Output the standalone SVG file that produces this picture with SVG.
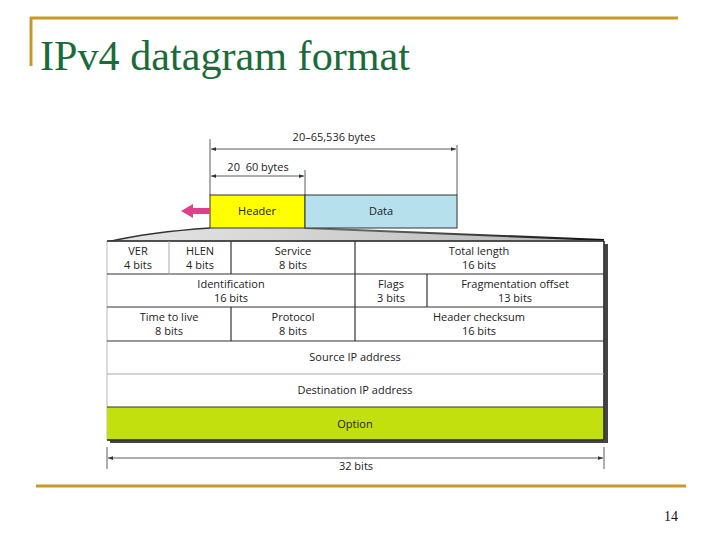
<svg xmlns="http://www.w3.org/2000/svg" width="720" height="540" viewBox="0 0 720 540">
<defs>
<style>
.t{font-family:"Open Sans","Liberation Sans",sans-serif;font-size:11px;fill:#222;text-anchor:middle}
.ln{stroke:#333;stroke-width:1.2;fill:none}
.dim{stroke:#333;stroke-width:0.8;fill:none}
</style>
<linearGradient id="fan" x1="0" y1="0" x2="1" y2="0">
<stop offset="0" stop-color="#e6e6e6"/>
<stop offset="0.5" stop-color="#cfcfcf"/>
<stop offset="1" stop-color="#b4b4b4"/>
</linearGradient>
<linearGradient id="edge" x1="0" y1="0" x2="1" y2="0">
<stop offset="0" stop-color="#777"/>
<stop offset="1" stop-color="#111"/>
</linearGradient>
<marker id="ah" viewBox="0 0 8 6" refX="8" refY="3" markerWidth="7" markerHeight="5" orient="auto-start-reverse">
<path d="M0,0 L8,3 L0,6 z" fill="#333"/>
</marker>
</defs>
<rect width="720" height="540" fill="#fff"/>
<!-- slide frame -->
<line x1="30" y1="18" x2="678" y2="18" stroke="#c49a2a" stroke-width="3"/>
<line x1="31" y1="17" x2="31" y2="66" stroke="#c49a2a" stroke-width="3"/>
<line x1="36" y1="486" x2="686" y2="486" stroke="#c49a2a" stroke-width="3"/>
<text x="40" y="70" font-family="Liberation Serif,serif" font-size="42" fill="#1b6b3a" textLength="370" lengthAdjust="spacingAndGlyphs">IPv4 datagram format</text>
<text x="671" y="521" font-family="Liberation Serif,serif" font-size="14" fill="#111" text-anchor="middle">14</text>

<!-- dimension lines -->
<g id="dims">
<line class="dim" x1="210" y1="139" x2="210" y2="195"/>
<line class="dim" x1="457" y1="145" x2="457" y2="195"/>
<line class="dim" x1="305" y1="170" x2="305" y2="195"/>
<line class="dim" x1="211" y1="149" x2="456" y2="149" marker-start="url(#ah)" marker-end="url(#ah)"/>
<line class="dim" x1="211" y1="176" x2="304" y2="176" marker-start="url(#ah)" marker-end="url(#ah)"/>
<text class="t" x="334" y="141">20–65,536 bytes</text>
<text class="t" x="258" y="171">20&#160;&#160;60 bytes</text>
<line class="dim" x1="107" y1="447" x2="107" y2="469"/>
<line class="dim" x1="604" y1="447" x2="604" y2="469"/>
<line class="dim" x1="108" y1="458" x2="603" y2="458" marker-start="url(#ah)" marker-end="url(#ah)"/>
<text class="t" x="356" y="470">32 bits</text>
</g>

<!-- fan -->
<path d="M210,228 L305,228 L604,240 L107,242 Q150,232 210,228 z" fill="url(#fan)"/>
<path d="M210,228 Q150,232 107,242" fill="none" stroke="#333" stroke-width="1.5"/>
<path d="M305,228 L604,240" fill="none" stroke="url(#edge)" stroke-width="2.2"/>

<!-- datagram -->
<g id="header">
<rect x="210" y="195" width="95" height="33" fill="#ffff00" stroke="#333" stroke-width="1"/>
<text class="t" x="257" y="215">Header</text>
</g>
<g id="data">
<rect x="305" y="195" width="152" height="33" fill="#b5e0ec" stroke="#333" stroke-width="1"/>
<text class="t" x="381" y="215">Data</text>
</g>
<g id="out-arrow">
<path d="M210,208 L193,208 L193,204 L181,211 L193,218 L193,214 L210,214 z" fill="#e0408a"/>
</g>

<!-- table -->
<g id="table">
<rect x="110" y="244" width="498" height="199" fill="#444"/>
<rect x="107" y="241" width="497" height="199" fill="#fff" stroke="#bbb" stroke-width="1"/>
<rect x="107" y="407" width="497" height="33" fill="#c2e00e"/>
<line x1="604" y1="241" x2="604" y2="440" stroke="#222" stroke-width="1.5"/>
<line x1="107" y1="241" x2="604" y2="241" stroke="#222" stroke-width="1.5"/>
<line class="ln" x1="107" y1="274" x2="604" y2="274"/>
<line class="ln" x1="107" y1="307" x2="604" y2="307"/>
<line class="ln" x1="107" y1="341" x2="604" y2="341"/>
<line x1="107" y1="374" x2="604" y2="374" stroke="#aaa" stroke-width="1.2"/>
<line class="ln" x1="107" y1="407" x2="604" y2="407"/>
<line x1="107" y1="440" x2="604" y2="440" stroke="#222" stroke-width="1.5"/>
<line x1="169" y1="241" x2="169" y2="274" stroke="#aaa" stroke-width="1"/>
<line class="ln" x1="231" y1="241" x2="231" y2="274"/>
<line class="ln" x1="355" y1="241" x2="355" y2="341"/>
<line class="ln" x1="427" y1="274" x2="427" y2="307"/>
<line class="ln" x1="231" y1="307" x2="231" y2="341"/>
</g>
<g id="ver"><text class="t" x="138" y="255">VER</text><text class="t" x="138" y="269">4 bits</text></g>
<g id="hlen"><text class="t" x="200" y="255">HLEN</text><text class="t" x="200" y="269">4 bits</text></g>
<g id="service"><text class="t" x="293" y="255">Service</text><text class="t" x="293" y="269">8 bits</text></g>
<g id="total"><text class="t" x="479" y="255">Total length</text><text class="t" x="479" y="269">16 bits</text></g>
<g id="ident"><text class="t" x="231" y="288">Identification</text><text class="t" x="231" y="302">16 bits</text></g>
<g id="flags"><text class="t" x="391" y="288">Flags</text><text class="t" x="391" y="302">3 bits</text></g>
<g id="frag"><text class="t" x="515" y="288">Fragmentation offset</text><text class="t" x="515" y="302">13 bits</text></g>
<g id="ttl"><text class="t" x="169" y="321">Time to live</text><text class="t" x="169" y="335">8 bits</text></g>
<g id="proto"><text class="t" x="293" y="321">Protocol</text><text class="t" x="293" y="335">8 bits</text></g>
<g id="cksum"><text class="t" x="479" y="321">Header checksum</text><text class="t" x="479" y="335">16 bits</text></g>
<g id="src"><text class="t" x="355" y="361">Source IP address</text></g>
<g id="dst"><text class="t" x="355" y="394">Destination IP address</text></g>
<g id="opt"><text class="t" x="355" y="428">Option</text></g>
</svg>
